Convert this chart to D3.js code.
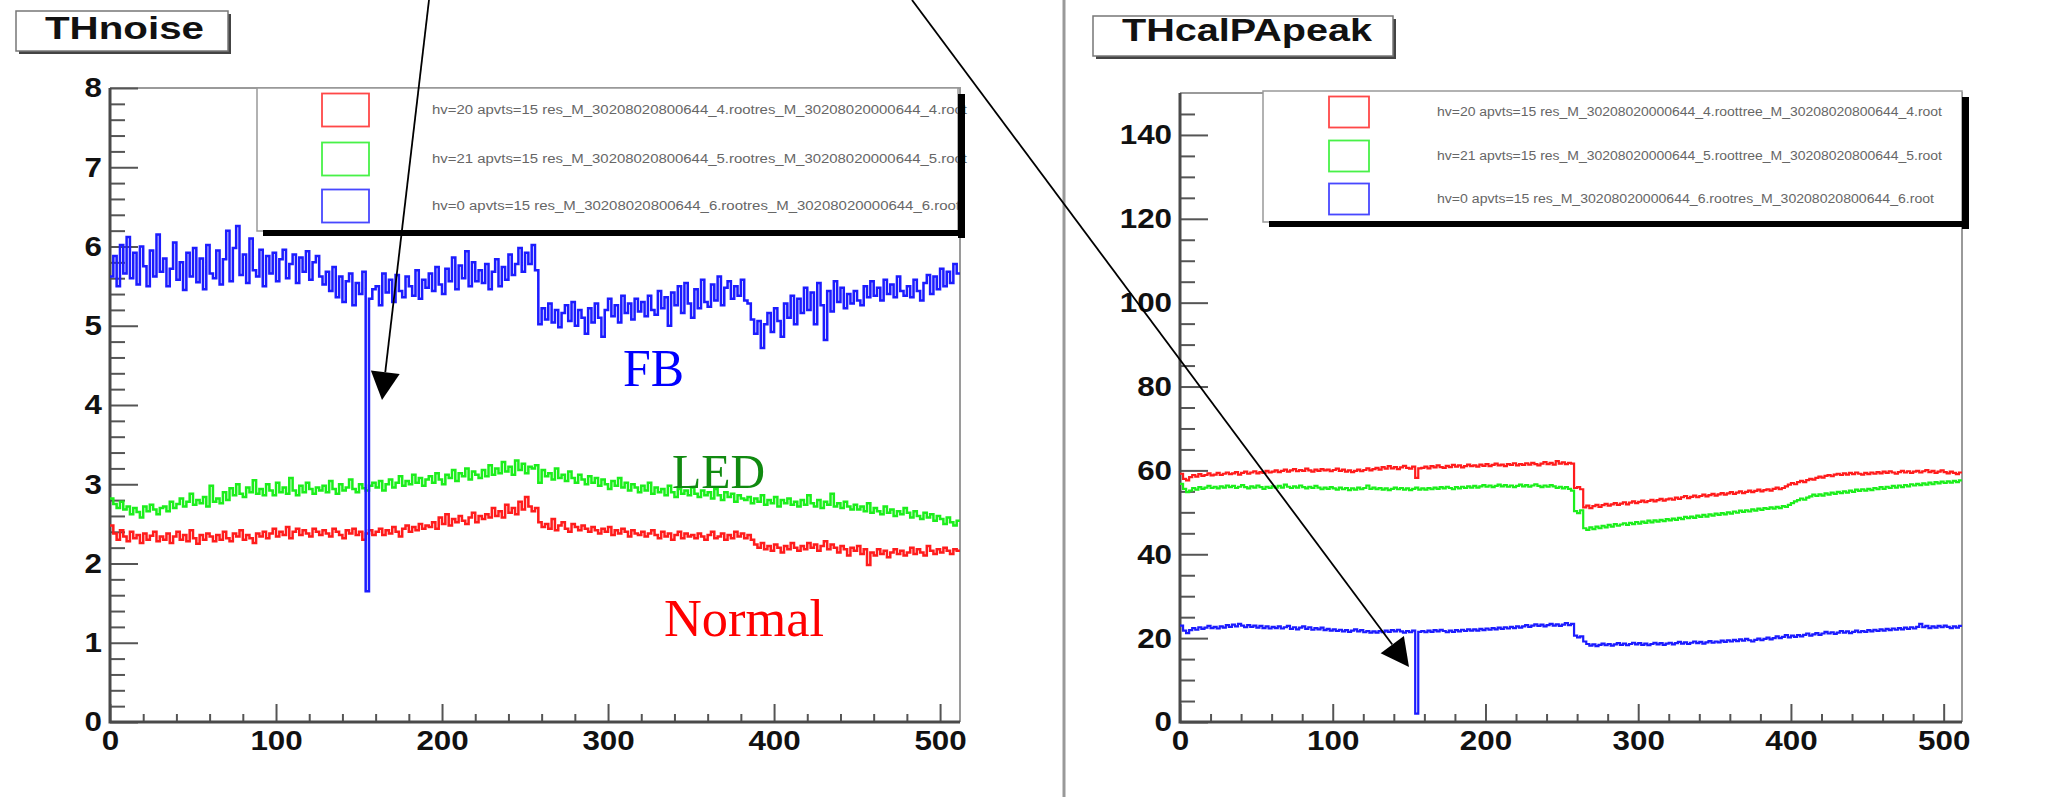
<!DOCTYPE html>
<html><head><meta charset="utf-8">
<script src="https://cdn.jsdelivr.net/npm/d3@7"></script>
<style>body{margin:0;background:#fff;}svg{display:block;}</style>
</head><body>
<svg id="c" width="2051" height="797"></svg>
<script>
// ---------------- DATA ----------------
const channelCount = 512;
const channelsPerBin = 2;

// Left panel: THnoise (one value per 2-channel bin, 256 bins)
const noiseNormal = [
2.48,2.38,2.30,2.42,2.34,2.28,2.40,2.32,2.36,2.26,2.38,2.30,2.35,2.40,2.28,2.34,
2.30,2.38,2.26,2.34,2.40,2.30,2.36,2.28,2.42,2.32,2.25,2.36,2.30,2.38,2.34,2.28,
2.36,2.30,2.40,2.32,2.28,2.38,2.34,2.42,2.30,2.36,2.32,2.26,2.38,2.34,2.40,2.32,
2.38,2.44,2.34,2.40,2.36,2.46,2.32,2.40,2.44,2.36,2.42,2.38,2.34,2.44,2.40,2.36,
2.42,2.38,2.34,2.44,2.40,2.36,2.32,2.42,2.38,2.44,2.36,2.40,2.30,2.38,2.42,2.36,
2.40,2.44,2.36,2.42,2.38,2.46,2.40,2.34,2.44,2.48,2.40,2.46,2.42,2.50,2.44,2.48,
2.46,2.52,2.44,2.58,2.50,2.62,2.48,2.56,2.52,2.60,2.54,2.50,2.58,2.64,2.52,2.60,
2.56,2.62,2.58,2.70,2.60,2.66,2.58,2.74,2.64,2.70,2.62,2.78,2.68,2.84,2.72,2.66,
2.70,2.52,2.46,2.50,2.44,2.56,2.42,2.48,2.52,2.44,2.40,2.50,2.46,2.42,2.48,2.44,
2.40,2.46,2.42,2.38,2.44,2.40,2.46,2.36,2.42,2.38,2.44,2.40,2.34,2.42,2.38,2.36,
2.40,2.34,2.38,2.42,2.36,2.32,2.40,2.34,2.38,2.30,2.36,2.40,2.32,2.38,2.34,2.36,
2.32,2.38,2.34,2.30,2.36,2.40,2.32,2.34,2.38,2.30,2.36,2.32,2.40,2.34,2.38,2.32,
2.36,2.30,2.24,2.20,2.26,2.18,2.22,2.16,2.24,2.20,2.14,2.22,2.18,2.26,2.20,2.16,
2.22,2.18,2.26,2.20,2.24,2.16,2.22,2.28,2.18,2.24,2.20,2.14,2.22,2.18,2.10,2.20,
2.16,2.22,2.12,2.18,1.98,2.14,2.10,2.18,2.12,2.16,2.08,2.14,2.18,2.12,2.16,2.10,
2.14,2.20,2.12,2.18,2.14,2.10,2.22,2.16,2.12,2.18,2.14,2.20,2.16,2.12,2.18,2.16];

const noiseLED = [
2.82,2.75,2.70,2.78,2.68,2.72,2.62,2.70,2.65,2.58,2.72,2.66,2.74,2.68,2.62,2.70,
2.72,2.66,2.78,2.70,2.75,2.82,2.72,2.78,2.88,2.74,2.80,2.76,2.84,2.72,2.98,2.78,
2.82,2.76,2.90,2.80,2.95,2.86,3.00,2.88,2.84,2.96,2.90,3.05,2.88,2.94,2.86,3.00,
2.92,2.86,3.02,2.90,2.96,2.88,3.08,2.92,2.86,2.98,2.90,3.02,2.94,2.88,2.96,2.92,
2.98,2.90,3.04,2.94,2.88,3.00,2.92,2.96,3.06,2.94,2.90,3.00,2.95,2.92,2.98,3.02,
2.96,3.04,2.92,3.00,3.06,2.96,3.02,3.10,2.98,3.04,3.00,3.12,3.02,3.08,2.98,3.06,
3.10,3.02,3.14,3.06,3.00,3.12,3.08,3.18,3.04,3.14,3.10,3.20,3.06,3.16,3.12,3.08,
3.18,3.10,3.24,3.12,3.20,3.14,3.28,3.16,3.22,3.12,3.30,3.18,3.26,3.14,3.22,3.20,
3.24,3.02,3.18,3.10,3.14,3.06,3.20,3.08,3.12,3.04,3.16,3.08,3.02,3.12,3.06,3.00,
3.10,3.02,3.08,2.98,3.06,3.00,2.94,3.04,2.98,3.08,2.96,3.02,2.92,3.00,2.96,2.90,
2.98,2.92,3.02,2.88,2.96,2.90,2.94,2.86,2.98,2.90,2.84,2.94,2.88,2.92,2.86,2.96,
2.88,2.84,2.92,2.86,2.90,2.82,2.94,2.86,2.80,2.90,2.84,2.88,2.78,2.86,2.82,2.80,
2.84,2.76,2.82,2.78,2.86,2.74,2.80,2.76,2.84,2.72,2.80,2.76,2.82,2.74,2.78,2.72,
2.80,2.74,2.86,2.76,2.72,2.80,2.70,2.78,2.74,2.88,2.72,2.76,2.70,2.78,2.72,2.68,
2.74,2.68,2.72,2.66,2.76,2.64,2.70,2.66,2.62,2.72,2.64,2.68,2.60,2.66,2.62,2.70,
2.64,2.58,2.66,2.60,2.56,2.64,2.58,2.62,2.54,2.60,2.56,2.50,2.58,2.52,2.48,2.54];

const noiseFB = [
5.62,5.88,5.50,6.02,5.66,6.12,5.60,5.92,5.52,6.00,5.75,5.50,5.95,5.62,6.15,5.68,
5.85,5.50,5.72,6.05,5.58,5.80,5.45,5.92,5.62,5.98,5.55,5.85,5.46,6.02,5.66,5.60,
5.95,5.52,5.84,6.20,5.56,5.98,6.26,5.64,5.90,5.54,6.10,5.70,5.62,5.96,5.50,5.88,
5.66,5.92,5.56,5.84,5.96,5.60,5.78,5.90,5.54,5.86,5.68,5.94,5.58,5.80,5.88,5.62,
5.52,5.68,5.44,5.74,5.36,5.62,5.30,5.56,5.66,5.26,5.54,5.40,5.68,1.65,5.34,5.46,
5.50,5.26,5.66,5.42,5.58,5.30,5.64,5.44,5.36,5.62,5.50,5.38,5.70,5.34,5.58,5.48,
5.66,5.44,5.74,5.52,5.40,5.72,5.56,5.86,5.46,5.76,5.60,5.94,5.50,5.80,5.56,5.70,
5.54,5.78,5.46,5.68,5.84,5.50,5.74,5.58,5.90,5.64,5.78,5.98,5.68,5.92,5.78,6.02,
5.70,5.02,5.22,5.08,5.28,5.04,5.20,4.98,5.16,5.26,5.06,5.30,5.00,5.20,5.10,4.90,
5.22,5.04,5.28,5.10,4.86,5.20,5.34,5.12,5.26,5.04,5.38,5.16,5.28,5.08,5.34,5.18,
5.30,5.12,5.38,5.20,5.14,5.44,5.22,5.36,5.00,5.42,5.26,5.50,5.16,5.54,5.28,5.10,
5.46,5.22,5.58,5.30,5.24,5.52,5.32,5.62,5.26,5.48,5.56,5.34,5.50,5.38,5.58,5.32,
5.28,5.08,4.90,5.06,4.72,5.02,5.16,4.92,5.22,5.06,4.86,5.28,5.10,5.38,5.02,5.34,
5.16,5.48,5.20,5.42,5.02,5.54,5.26,4.82,5.44,5.18,5.56,5.30,5.48,5.22,5.40,5.28,
5.44,5.32,5.26,5.50,5.36,5.56,5.38,5.48,5.32,5.58,5.40,5.52,5.36,5.62,5.44,5.38,
5.50,5.36,5.58,5.44,5.32,5.54,5.64,5.40,5.62,5.46,5.72,5.50,5.68,5.54,5.78,5.66];

// Right panel: THcalPApeak (256 bins)
const peakHv20 = [
59.2,58.0,57.6,58.4,58.9,58.5,59.1,58.7,58.9,59.3,58.8,59.0,59.4,58.9,59.2,59.5,
59.1,59.3,59.6,59.0,59.4,59.7,59.2,59.5,59.8,59.3,59.6,59.4,59.9,59.5,59.7,60.0,
59.6,59.9,60.2,59.7,60.0,60.3,59.8,60.1,59.9,60.4,60.0,59.7,60.2,59.9,60.3,60.0,
60.2,59.8,60.1,60.4,59.9,60.2,59.7,60.0,59.6,59.9,60.2,59.8,60.1,60.5,60.0,60.3,
60.6,60.2,60.8,60.4,61.0,60.5,60.8,60.3,60.7,61.1,60.6,60.4,60.9,58.2,60.5,60.6,
60.9,60.5,61.0,60.7,61.2,60.8,60.6,61.1,60.8,61.3,60.9,61.2,60.7,61.0,61.4,61.0,
61.2,60.9,61.4,61.1,61.5,61.0,61.3,61.6,61.2,61.4,61.0,61.5,61.3,61.7,61.2,61.5,
61.3,61.7,61.4,61.8,61.5,61.2,61.6,62.0,61.5,61.8,61.4,62.2,61.6,61.9,61.5,61.8,
61.6,55.8,56.0,55.5,51.2,51.6,51.0,51.5,51.8,51.3,51.7,52.0,51.6,51.9,52.2,51.8,
52.1,52.4,51.9,52.3,52.6,52.2,52.5,52.8,52.4,52.7,53.0,52.6,52.9,53.2,52.8,53.1,
53.3,53.0,53.5,53.2,53.6,53.9,53.4,53.7,54.0,53.6,53.9,54.2,53.8,54.1,54.4,54.0,
54.3,54.6,54.2,54.5,54.8,54.4,54.7,55.0,54.6,54.9,55.2,54.8,55.1,55.4,55.0,55.3,
55.5,55.2,55.6,55.9,55.5,55.8,56.2,56.6,57.0,56.7,57.2,57.5,57.2,57.7,58.0,57.8,
58.2,58.5,58.3,58.7,58.9,58.6,59.0,59.2,58.9,59.3,59.0,59.4,59.1,59.5,59.2,59.0,
59.4,59.1,59.5,59.2,59.6,59.3,59.7,59.4,59.8,59.5,59.2,59.6,59.9,59.5,59.8,59.4,
59.7,59.9,59.5,59.8,60.1,59.6,59.9,59.4,59.7,60.0,59.6,59.3,59.7,59.4,59.1,59.5];

const peakHv21 = [
56.8,55.6,54.8,55.2,55.8,55.4,56.0,55.6,55.9,56.3,55.8,56.1,55.7,56.2,55.9,56.4,
56.0,56.3,55.8,56.1,56.5,56.0,55.7,56.2,55.9,56.4,56.0,55.6,56.1,55.8,56.2,55.9,
56.3,55.9,56.6,56.1,55.8,56.2,55.9,56.4,56.0,55.7,56.1,55.8,56.3,55.9,55.5,55.9,
55.6,56.0,55.7,55.4,55.9,55.5,55.8,55.3,55.7,55.4,55.9,55.5,55.8,56.4,55.6,55.9,
55.5,55.8,55.4,55.7,55.3,55.6,55.9,55.5,55.8,55.4,55.7,55.3,55.6,55.9,55.4,55.7,
55.4,55.8,55.5,55.9,55.6,56.0,55.7,56.1,55.8,55.5,56.0,55.7,56.1,55.8,56.2,55.9,
56.3,55.9,56.2,56.5,56.1,56.4,56.0,56.3,56.6,56.2,56.5,56.1,56.4,56.0,56.3,56.6,
56.2,56.5,56.1,56.4,56.7,56.3,56.0,56.4,56.1,56.5,56.2,55.8,56.1,55.7,56.0,55.6,
55.2,50.3,49.8,50.5,46.2,45.8,46.4,46.0,46.6,46.2,46.8,46.4,47.0,46.6,47.2,46.8,
47.1,47.4,47.0,47.5,47.2,47.7,47.3,47.8,47.5,48.0,47.6,48.1,47.8,48.2,47.9,48.4,
48.1,48.5,48.2,48.7,48.4,48.9,48.6,49.0,48.7,49.2,48.9,49.4,49.0,49.5,49.2,49.7,
49.4,49.8,49.5,50.0,49.7,50.2,49.9,50.4,50.1,50.5,50.2,50.7,50.4,50.9,50.6,51.0,
50.8,51.2,50.9,51.3,51.0,51.5,51.3,51.8,52.2,52.6,52.9,53.3,53.0,53.5,53.8,54.2,
53.9,54.3,54.0,54.5,54.2,54.7,54.4,54.9,54.6,55.0,54.7,55.2,54.9,55.4,55.1,55.5,
55.2,55.6,55.3,55.8,55.5,56.0,55.6,56.1,55.8,56.3,55.9,56.4,56.0,56.5,56.2,56.7,
56.4,56.8,56.5,56.9,56.6,57.1,56.7,57.2,56.9,57.3,57.0,57.4,57.1,57.5,57.2,57.6];

const peakHv0 = [
23.0,21.8,21.2,21.9,22.4,22.0,22.6,22.2,22.5,22.9,22.4,22.7,22.3,22.8,22.5,23.1,
22.7,23.2,22.8,23.4,23.0,22.6,23.1,22.7,23.0,22.5,22.9,22.4,22.8,22.3,22.7,22.4,
22.8,22.3,22.6,22.9,22.2,22.6,22.1,22.5,22.8,22.2,22.6,22.0,22.4,22.1,22.5,21.9,
22.2,21.8,22.1,21.7,22.0,21.6,21.9,21.5,21.8,22.1,21.6,21.9,21.4,21.7,21.3,21.6,
21.3,21.7,21.4,21.8,21.5,21.9,21.6,22.0,21.6,21.3,21.7,21.4,21.8,2.0,21.5,21.7,
21.4,21.8,21.5,21.9,21.6,22.0,21.7,21.4,21.8,21.5,21.9,21.6,22.0,21.7,22.1,21.8,
22.1,21.8,22.2,21.9,22.3,22.0,22.4,22.1,22.5,22.2,22.6,22.3,22.7,22.4,22.8,22.5,
22.8,23.1,22.7,23.0,23.3,22.9,23.2,22.8,23.1,23.4,23.0,23.3,22.9,23.2,23.6,23.1,
23.4,20.6,20.2,20.4,19.2,18.6,18.2,18.5,18.1,18.4,18.7,18.3,18.6,18.2,18.5,18.8,
18.4,18.7,18.3,18.6,18.9,18.5,18.8,18.4,18.7,18.3,18.6,18.9,18.5,18.8,18.4,18.7,
18.9,18.5,18.8,19.1,18.7,19.0,18.6,18.9,19.2,18.8,19.1,18.7,19.0,19.3,18.9,19.2,
19.0,19.4,19.1,19.5,19.2,19.6,19.3,19.7,19.4,19.8,19.5,19.2,19.6,19.9,19.5,19.8,
20.1,19.7,20.0,20.4,20.0,20.3,20.7,20.2,20.6,20.3,20.7,20.4,20.8,21.1,20.6,20.9,
21.2,20.8,21.1,21.5,21.1,21.4,21.0,21.3,21.7,21.3,21.6,21.2,21.5,21.8,21.4,21.7,
21.5,21.9,21.6,22.0,21.7,22.1,21.8,22.2,21.9,22.3,22.0,22.4,22.1,22.5,22.2,22.6,
22.3,22.7,23.4,22.6,22.9,22.4,22.8,22.5,22.9,22.6,23.0,22.7,22.4,22.8,22.5,22.9];

const leftTitle = "THnoise";
const rightTitle = "THcalPApeak";
const leftLegend = [
  "hv=20 apvts=15 res_M_30208020800644_4.rootres_M_30208020000644_4.root",
  "hv=21 apvts=15 res_M_30208020800644_5.rootres_M_30208020000644_5.root",
  "hv=0 apvts=15 res_M_30208020800644_6.rootres_M_30208020000644_6.root"];
const rightLegend = [
  "hv=20 apvts=15 res_M_30208020000644_4.roottree_M_30208020800644_4.root",
  "hv=21 apvts=15 res_M_30208020000644_5.roottree_M_30208020800644_5.root",
  "hv=0 apvts=15 res_M_30208020000644_6.rootres_M_30208020800644_6.root"];
const annotations = ["FB", "LED", "Normal"];
const xTicks = [0,100,200,300,400,500];
const leftYTicks = [0,1,2,3,4,5,6,7,8];
const rightYTicks = [0,20,40,60,80,100,120,140];

// ---------------- DRAW ----------------
const svg = d3.select("#c");
svg.append("rect").attr("width",2051).attr("height",797).attr("fill","#fff");
const defs = svg.append("defs");
defs.append("filter").attr("id","soft").append("feGaussianBlur").attr("stdDeviation",0.45);
const colors = ["#ff1a1a","#1aee1a","#1a1aff"];

function panel(o){
  const g = svg.append("g");
  const x = d3.scaleLinear([0,channelCount],[o.x0,o.x1]);
  const y = d3.scaleLinear(o.yDomain,[722,o.yTop]);
  g.append("path").attr("d",`M${o.x0},${o.yTop}H${o.x1}V722`).attr("fill","none").attr("stroke","#9a9a9a").attr("stroke-width",2);
  const tickStyle = s=>s.call(a=>a.select(".domain").remove()).selectAll("line").attr("stroke","#555").attr("stroke-width",2);
  g.append("g").attr("transform",`translate(${o.x0},0)`)
    .call(d3.axisLeft(y).tickValues(o.yMinor).tickSize(-15).tickFormat(""))
    .call(tickStyle);
  g.append("g").attr("transform",`translate(0,722)`)
    .call(d3.axisBottom(x).tickValues(d3.range(0,513,20).filter(v=>v%100)).tickSize(-8).tickFormat(""))
    .call(tickStyle);
  const ya = g.append("g").attr("transform",`translate(${o.x0},0)`)
    .call(d3.axisLeft(y).tickValues(o.yTicks).tickSizeInner(-28).tickSizeOuter(0).tickPadding(8));
  const xa = g.append("g").attr("transform",`translate(0,722)`)
    .call(d3.axisBottom(x).tickValues(xTicks).tickSizeInner(-18).tickSizeOuter(0).tickPadding(8));
  [ya,xa].forEach(a=>{
    a.select(".domain").remove();
    a.selectAll("line").attr("stroke","#555").attr("stroke-width",2);
    a.selectAll("text").attr("font-family","Liberation Sans, Arial, sans-serif")
      .attr("font-size",28).attr("font-weight","bold").attr("fill","#111")
      .attr("textLength",function(){return this.textContent.length*0.556*28*1.12;})
      .attr("lengthAdjust","spacingAndGlyphs");
  });
  g.append("path").attr("d",`M${o.x0},${o.yTop}V722H${o.x1}`).attr("fill","none").attr("stroke","#4a4a4a").attr("stroke-width",3);
  const line = d3.line().x(d=>x(d[0])).y(d=>y(d[1])).curve(d3.curveStepAfter);
  o.series.forEach((vals,k)=>{
    const pts = vals.map((v,i)=>[i*channelsPerBin,v]);
    pts.push([channelCount, vals[vals.length-1]]);
    g.append("path").attr("d",line(pts)).attr("fill","none").attr("filter","url(#soft)")
      .attr("stroke",colors[k]).attr("stroke-width",o.lw).attr("stroke-linejoin","miter");
  });
  const L = o.legend;
  g.append("rect").attr("x",L.x).attr("y",L.y).attr("width",L.w).attr("height",L.h)
    .attr("fill","#fff").attr("stroke","#999").attr("stroke-width",1.5);
  o.labels.forEach((t,k)=>{
    const cy = L.rows[k];
    g.append("rect").attr("x",L.bx).attr("y",cy-L.bh/2).attr("width",L.bw).attr("height",L.bh)
      .attr("fill","none").attr("stroke",colors[k]).attr("stroke-width",1.8).attr("opacity",0.8);
    g.append("text").attr("x",L.tx).attr("y",cy+4).text(t)
      .attr("font-family","Liberation Sans Narrow, Liberation Sans, Arial, sans-serif").attr("font-size",12)
      .attr("fill","#666").attr("textLength",L.tw[k]).attr("lengthAdjust","spacingAndGlyphs");
  });
  g.append("rect").attr("x",L.x+L.w).attr("y",L.y+6).attr("width",7).attr("height",L.h+1).attr("fill","#000");
  g.append("rect").attr("x",L.x+6).attr("y",L.y+L.h-1).attr("width",L.w+1).attr("height",6).attr("fill","#000");
  const T = o.title;
  g.append("rect").attr("x",T.x+3).attr("y",T.y+3).attr("width",T.w).attr("height",T.h).attr("fill","#444");
  g.append("rect").attr("x",T.x).attr("y",T.y).attr("width",T.w).attr("height",T.h).attr("fill","#fff").attr("stroke","#777").attr("stroke-width",1.5);
  g.append("text").attr("x",T.tx).attr("y",T.ty).text(T.text)
    .attr("font-family","Liberation Sans, Arial, sans-serif").attr("font-size",31).attr("font-weight","bold").attr("fill","#111")
    .attr("textLength",T.tw).attr("lengthAdjust","spacingAndGlyphs");
  return {x,y};
}

panel({x0:110,x1:960,yTop:88,yDomain:[0,8],yTicks:leftYTicks,lw:2.5,
  yMinor:d3.range(0,8.01,0.2).map(v=>+v.toFixed(1)).filter(v=>Math.abs(v-Math.round(v))>0.01),
  series:[noiseNormal,noiseLED,noiseFB],labels:leftLegend,
  legend:{x:257,y:88,w:701,h:143,rows:[110,159,206],bx:322,bw:47,bh:33,tx:432,tw:[535,535,528]},
  title:{x:16,y:11,w:212,h:40,text:leftTitle,tx:45,ty:39,tw:159}});

panel({x0:1180,x1:1962,yTop:93,yDomain:[0,150],yTicks:rightYTicks,lw:2.2,
  yMinor:d3.range(5,150,5).filter(v=>v%20),
  series:[peakHv20,peakHv21,peakHv0],labels:rightLegend,
  legend:{x:1263,y:91,w:699,h:131,rows:[112,156,199],bx:1329,bw:40,bh:31,tx:1437,tw:[505,505,497]},
  title:{x:1093,y:16,w:300,h:40,text:rightTitle,tx:1122,ty:41,tw:250}});

svg.append("line").attr("x1",1064).attr("x2",1064).attr("y1",0).attr("y2",797).attr("stroke","#999").attr("stroke-width",3);

const ann = [
  {t:annotations[0],x:623,y:386,fs:53,w:61,c:"#0000ff"},
  {t:annotations[1],x:672,y:488,fs:49,w:93,c:"#108a10"},
  {t:annotations[2],x:664,y:636,fs:53,w:160,c:"#ff0000"}];
ann.forEach(a=>svg.append("text").attr("x",a.x).attr("y",a.y).text(a.t)
  .attr("font-family","Liberation Serif, Times New Roman, serif").attr("font-size",a.fs)
  .attr("fill",a.c).attr("textLength",a.w).attr("lengthAdjust","spacingAndGlyphs"));

function arrow(x1,y1,x2,y2){
  const dx=x2-x1, dy=y2-y1, len=Math.hypot(dx,dy), ux=dx/len, uy=dy/len;
  const hl=28, hw=14.5, bx=x2-ux*hl, by=y2-uy*hl;
  svg.append("line").attr("x1",x1).attr("y1",y1).attr("x2",bx).attr("y2",by).attr("stroke","#000").attr("stroke-width",1.8);
  svg.append("path").attr("d",`M${x2},${y2}L${bx-uy*hw},${by+ux*hw}L${bx+uy*hw},${by-ux*hw}Z`).attr("fill","#000");
}
arrow(429,0,382,400);
arrow(912,0,1409,667);
</script>
</body></html>
